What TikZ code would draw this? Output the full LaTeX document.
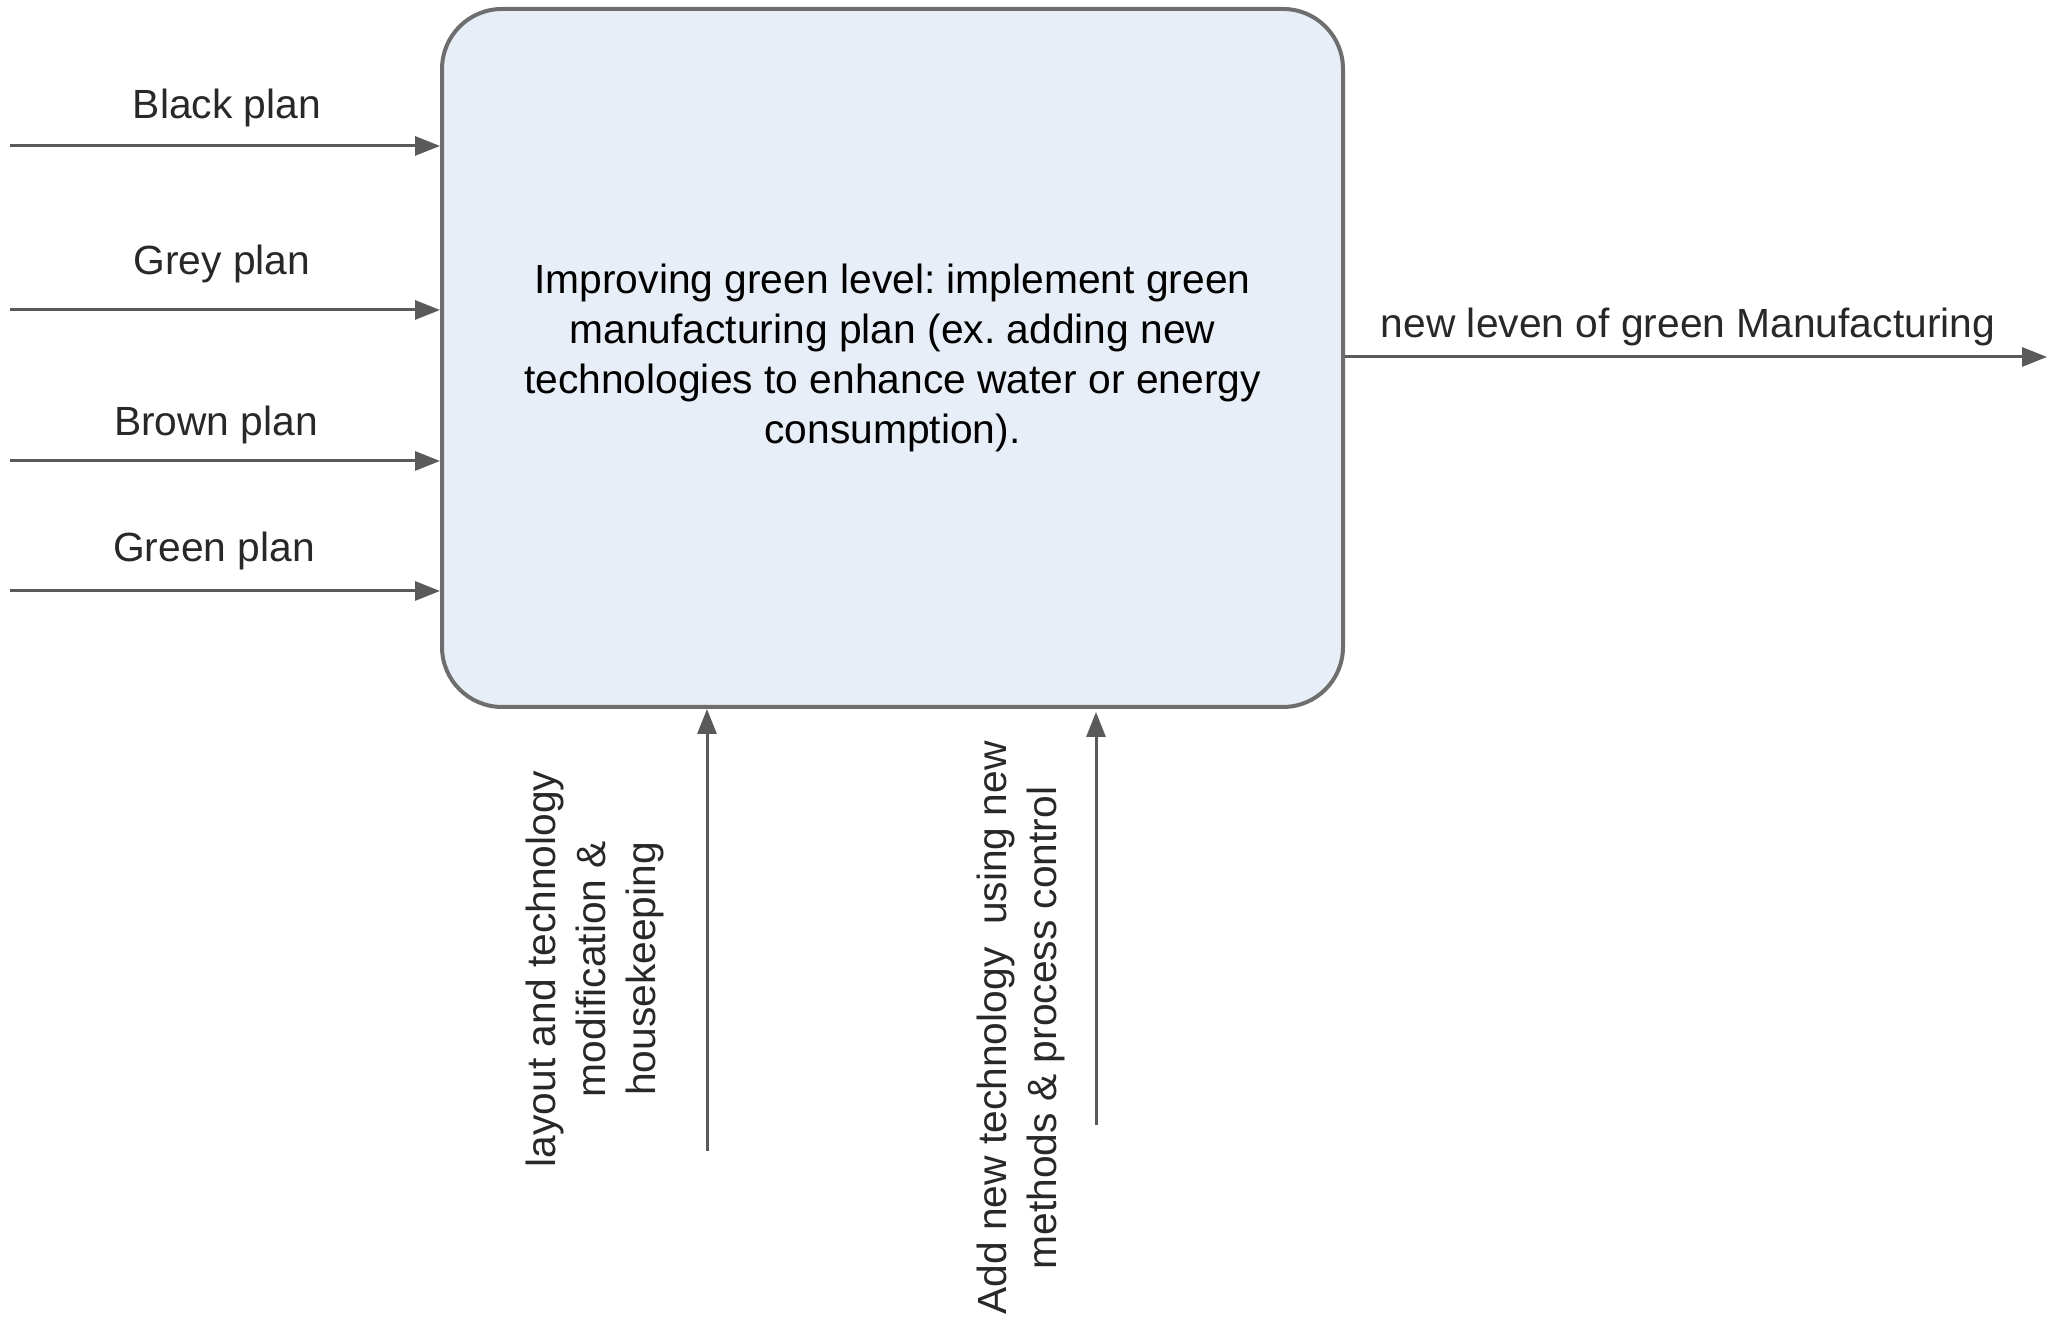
\documentclass[tikz,border=0pt]{standalone}
\usepackage{fontspec}
\setmainfont{Liberation Sans}
\usetikzlibrary{arrows.meta,positioning}
\pgfdeclarelayer{edgelayer}
\pgfdeclarelayer{nodelayer}
\pgfsetlayers{edgelayer,nodelayer,main}
\definecolor{boxfill}{HTML}{E8EEF7}
\definecolor{boxline}{HTML}{6E6E6E}
\definecolor{flowline}{HTML}{5A5A5A}
\definecolor{txt}{HTML}{282828}
\frenchspacing
\tikzset{font=\fontsize{11.6}{14.2}\selectfont}
\tikzstyle{none}=[inner sep=0pt]
\tikzstyle{procbox}=[draw=boxline,fill=boxfill,line width=0.4mm,rounded corners=0.6cm,minimum width=9.01cm,minimum height=6.98cm,align=center]
\tikzstyle{flow}=[draw=flowline,line width=0.3mm,-{Triangle[length=2.5mm,width=1.9mm]}]
\tikzstyle{lbl}=[inner sep=0pt,text=txt]
\tikzstyle{vlbl}=[inner sep=0pt,text=txt,rotate=90,align=center]

\begin{document}
\begin{tikzpicture}
	\useasboundingbox (0,0) rectangle (20.49,13.23);
	\begin{pgfonlayer}{nodelayer}
		\node [style=procbox] (proc) at (8.925, 9.65) {Improving green level: implement green\\manufacturing plan (ex. adding new\\technologies to enhance water or energy\\consumption).};
		\node [style=none] (in1) at (0.1, 11.77) {};
		\node [style=none] (in2) at (0.1, 10.13) {};
		\node [style=none] (in3) at (0.1, 8.62) {};
		\node [style=none] (in4) at (0.1, 7.32) {};
		\node [style=none] (out) at (20.47, 9.66) {};
		\node [style=none] (mech1) at (7.07, 1.72) {};
		\node [style=none] (mech2) at (10.96, 1.98) {};
		\node [style=none] (mech2top) at (10.96, 6.11) {};
		\node [style=lbl] (black) at (2.27, 12.15) {Black plan};
		\node [style=lbl] (grey) at (2.22, 10.59) {Grey plan};
		\node [style=lbl] (brown) at (2.16, 8.98) {Brown plan};
		\node [style=lbl] (green) at (2.14, 7.72) {Green plan};
		\node [style=lbl] (newlevel) at (16.88, 9.96) {new leven of green Manufacturing};
		\node [style=vlbl] (layout) at (5.95, 3.54) {layout and technology\\modification \&\\housekeeping};
		\node [style=vlbl] (addtech) at (10.21, 2.95) {Add new technology\ \ using new\\methods \& process control};
	\end{pgfonlayer}
	\begin{pgfonlayer}{edgelayer}
		\draw [style=flow] (in1.center) to (proc.west |- in1.center);
		\draw [style=flow] (in2.center) to (proc.west |- in2.center);
		\draw [style=flow] (in3.center) to (proc.west |- in3.center);
		\draw [style=flow] (in4.center) to (proc.west |- in4.center);
		\draw [style=flow] (proc.east |- out.center) to (out.center);
		\draw [style=flow] (mech1.center) to (mech1.center |- proc.south);
		\draw [style=flow] (mech2.center) to (mech2top.center);
	\end{pgfonlayer}
\end{tikzpicture}
\end{document}
